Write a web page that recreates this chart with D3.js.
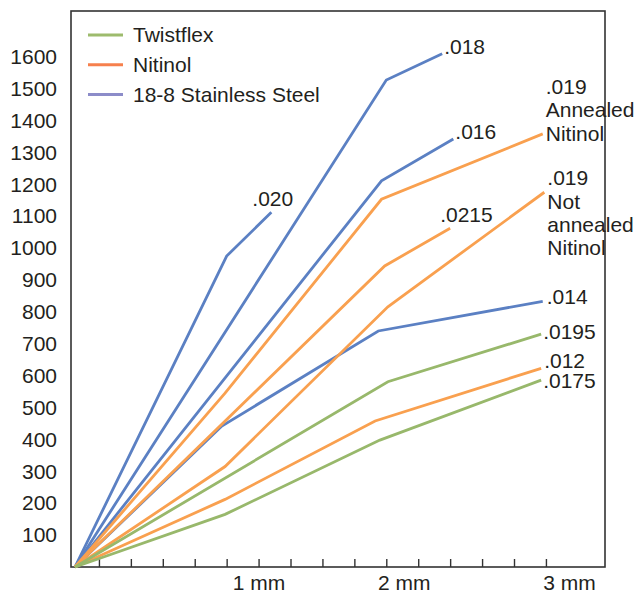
<!DOCTYPE html>
<html><head><meta charset="utf-8">
<script src="https://cdn.jsdelivr.net/npm/d3@7"></script>
<style>
html,body{margin:0;padding:0;background:#fff;}
text{font-family:"Liberation Sans",Arial,Helvetica,sans-serif;fill:#231f20;}
</style></head>
<body><svg id="c" width="636" height="592"></svg>
<script>
// ---- data (x in mm, y in force units) ----
const yTicks = [100,200,300,400,500,600,700,800,900,1000,1100,1200,1300,1400,1500,1600];
const xMinorTicks = [0.2,0.4,0.6,0.8,1.0,1.2,1.4,1.6,1.8,2.0,2.2,2.4,2.6,2.8,3.0];
const xLabelNames = ["1 mm","2 mm","3 mm"];
const xLabelPos = [1.2, 2.11, 3.145];

const legendNames = ["Twistflex","Nitinol","18-8 Stainless Steel"];
const legendKeys = ["tw","ni","ss"];

// stainless steel
const ss020  = [[0.05,0],[1.00,975],[1.28,1112]];
const ss018  = [[0.05,0],[2.00,1527],[2.35,1609]];
const ss016  = [[0.05,0],[1.97,1211],[2.42,1342]];
const ss014  = [[0.05,0],[0.97,442],[1.95,740],[2.98,833]];
// nitinol
const niAnn  = [[0.05,0],[0.99,545],[1.97,1153],[2.98,1358]];
const ni0215 = [[0.05,0],[1.99,944],[2.40,1062]];
const niNot  = [[0.05,0],[0.99,315],[2.01,816],[2.99,1175]];
const ni012  = [[0.05,0],[0.99,212],[1.93,458],[2.97,623]];
// twistflex
const tw0195 = [[0.05,0],[2.01,581],[2.97,730]];
const tw0175 = [[0.05,0],[0.99,165],[1.96,398],[2.97,586]];

const series = [
  {d:ss020, k:"ss", label:[".020"]},
  {d:ss018, k:"ss", label:[".018"]},
  {d:ss016, k:"ss", label:[".016"]},
  {d:ss014, k:"ss", label:[".014"]},
  {d:niAnn, k:"ni", label:[".019","Annealed","Nitinol"]},
  {d:ni0215,k:"ni", label:[".0215"]},
  {d:niNot, k:"ni", label:[".019","Not","annealed","Nitinol"]},
  {d:ni012, k:"ni", label:[".012"]},
  {d:tw0195,k:"tw", label:[".0195"]},
  {d:tw0175,k:"tw", label:[".0175"]}
];

// ---- styles ----
const lineColor = {ss:"#5b80c3", ni:"#f9a04f", tw:"#98b86b"};
const legColor  = {ss:"#8c8cc9", ni:"#f6804d", tw:"#9dbb6d"};
const FS = "21px";

const svg = d3.select("#c");
const L = 71, R = 605, T = 11, B = 567;
const x = d3.scaleLinear().domain([0.025, 3.37]).range([L, R]);
const y = d3.scaleLinear().domain([0, 1600]).range([B, 56.7]);

// frame
svg.append("rect").attr("x",L).attr("y",T).attr("width",R-L).attr("height",B-T)
  .attr("fill","none").attr("stroke","#333").attr("stroke-width",1.6);

// x ticks (inside)
const gx = svg.append("g").attr("transform",`translate(0,${B})`)
  .call(d3.axisBottom(x).tickValues(xMinorTicks).tickSize(-8).tickFormat(""));
gx.select(".domain").remove();
gx.selectAll("line").attr("stroke","#333").attr("stroke-width",1.4);

// x labels
const gxl = svg.append("g").attr("transform",`translate(0,${B})`)
  .call(d3.axisBottom(x).tickValues(xLabelPos).tickSize(0).tickPadding(8)
    .tickFormat((d,i)=>xLabelNames[i]));
gxl.select(".domain").remove();
gxl.selectAll("text").attr("font-size",FS).attr("font-family",null).attr("fill","#231f20");

// y labels
const gy = svg.append("g").attr("transform",`translate(${L},0)`)
  .call(d3.axisLeft(y).tickValues(yTicks).tickSize(0).tickPadding(14).tickFormat(d3.format("d")));
gy.select(".domain").remove();
gy.selectAll("text").attr("font-size",FS).attr("font-family",null).attr("fill","#231f20");

// lines
const line = d3.line().x(d=>x(d[0])).y(d=>y(d[1]));
svg.append("g").selectAll("path").data(series).join("path")
  .attr("d",s=>line(s.d)).attr("fill","none")
  .attr("stroke",s=>lineColor[s.k]).attr("stroke-width",2.8)
  .attr("stroke-linejoin","miter");

// end labels
const labOffsets = {
  ".020":[-19,-6], ".018":[2,0], ".016":[2,0], ".014":[4,3],
  ".0215":[-10,-6], ".0195":[2,5], ".012":[3,0], ".0175":[2,8]
};
const bgLayer = svg.append("g");
const multi = [];
series.forEach(s=>{
  const e = s.d[s.d.length-1];
  const px = x(e[0]), py = y(e[1]);
  if (s.label.length === 1) {
    const o = labOffsets[s.label[0]];
    svg.append("text").attr("x",px+o[0]).attr("y",py+o[1]).attr("font-size",FS).text(s.label[0]);
  } else {
    const t = svg.append("text").attr("font-size",FS);
    const lh = 23.4;
    const startY = s.label.length === 3 ? py - 2*lh + 7 : py - 7;
    s.label.forEach((w,i)=>{
      t.append("tspan").attr("x",px+3).attr("y",startY + i*lh).text(w);
    });
    multi.push(t.node().getBBox());
  }
});
// white background behind the multi-line labels (breaks the frame)
const x0 = d3.min(multi,b=>b.x), x1 = d3.max(multi,b=>b.x+b.width);
const y0 = d3.min(multi,b=>b.y), y1 = d3.max(multi,b=>b.y+b.height);
bgLayer.append("rect").attr("x",x0-2).attr("y",y0+3).attr("width",x1-x0+4).attr("height",y1-y0+2).attr("fill","#fff");
// re-draw the line ends under labels
bgLayer.lower();
svg.select("rect").lower();

// legend
const lg = svg.append("g");
legendKeys.forEach((k,i)=>{
  const ly = 35 + i*29.7;
  lg.append("line").attr("x1",88).attr("x2",123).attr("y1",ly).attr("y2",ly)
    .attr("stroke",legColor[k]).attr("stroke-width",3);
  lg.append("text").attr("x",133).attr("y",ly).attr("dy","0.35em").attr("font-size",FS).text(legendNames[i]);
});
</script></body></html>
